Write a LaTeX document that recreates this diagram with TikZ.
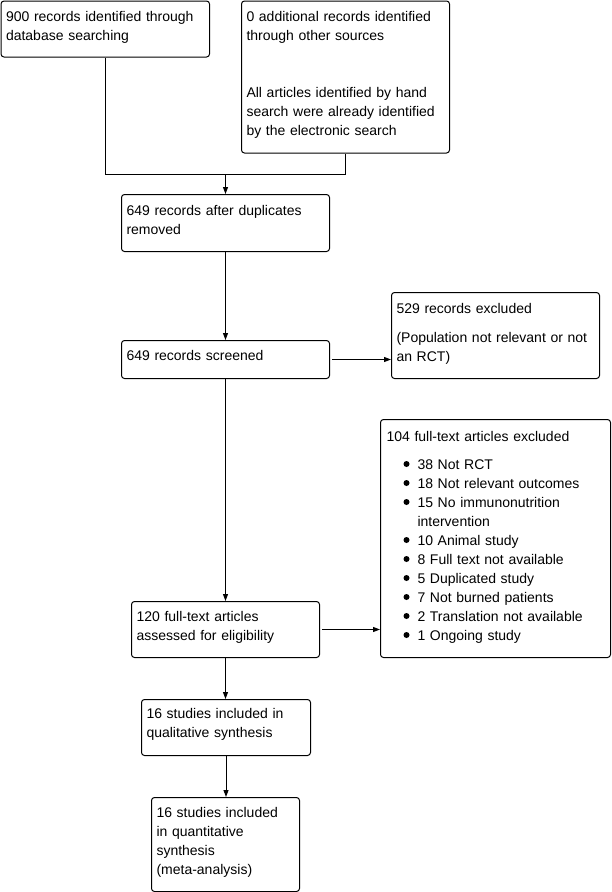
\documentclass[tikz,border=0pt]{standalone}
\usepackage{fontspec}
\setmainfont{Liberation Sans}
\usetikzlibrary{arrows.meta}
\newcommand\bitem{\hspace*{17pt}\tikz[baseline=-5.5pt]\fill (0,0) circle (3pt);\hspace{8pt}}
\tikzset{
  box/.style={draw, line width=1pt, rounded corners=3pt, anchor=north west,
    inner xsep=5pt, inner ysep=0pt, align=left,
    font=\fontsize{14}{19}\selectfont},
  link/.style={line width=1pt},
  arr/.style={line width=1pt, -{Triangle[length=7pt,width=5pt]}}
}
\begin{document}
\begin{tikzpicture}[x=1pt,y=-1pt]
\useasboundingbox (0,0) rectangle (611,892);
\node[box, text width=198.5pt, text height=20pt, text depth=36pt] (A) at (0.5,0.5)
  {900 records identified through\\database searching};
\node[box, text width=198pt, text height=20pt, text depth=132pt] (B) at (241,0.5)
  {0 additional records identified\\through other sources\\[38pt]All articles identified by hand\\search were already identified\\by the electronic search};
\node[box, text width=198pt, text height=20.5pt, text depth=36.5pt] (C) at (121,194)
  {649 records after duplicates\\removed};
\node[box, text width=198pt, text height=20pt, text depth=18pt] (D) at (121,340)
  {649 records screened};
\node[box, text width=198pt, text height=21pt, text depth=65pt] (E) at (391,292)
  {529 records excluded\\[10pt](Population not relevant or not\\an RCT)};
\node[box, inner xsep=6pt, text width=218pt, text height=21.5pt, text depth=216.5pt] (F) at (380,419)
  {104 full-text articles excluded\\[9.5pt]
   \bitem 38 Not RCT\\
   \bitem 18 Not relevant outcomes\\
   \bitem 15 No immunonutrition\\
   \hspace*{31pt}intervention\\
   \bitem 10 Animal study\\
   \bitem 8 Full text not available\\
   \bitem 5 Duplicated study\\
   \bitem 7 Not burned patients\\
   \bitem 2 Translation not available\\
   \bitem 1 Ongoing study};
\node[box, text width=178pt, text height=20pt, text depth=36pt] (G) at (131,601)
  {120 full-text articles\\assessed for eligibility};
\node[box, text width=159pt, text height=19pt, text depth=37pt] (H) at (141,699)
  {16 studies included in\\qualitative synthesis};
\node[box, text width=138pt, text height=19.5pt, text depth=74.5pt] (I) at (151,797)
  {16 studies included\\in quantitative\\synthesis\\(meta-analysis)};
\coordinate (j) at (225.5,174);
\draw[link] (A.south) -- (A.south |- j) -- (B.south |- j) -- (B.south);
\draw[arr] (j) -- (C.north -| j);
\draw[arr] (C.south) -- (D.north);
\draw[arr] (D.south) -- (D.south |- G.north);
\draw[arr] (G.south) -- (G.south |- H.north);
\draw[arr] (H.south) -- (H.south |- I.north);
\draw[arr, shorten <=2pt] (D.east) -- (D.east -| E.west);
\draw[arr, shorten <=2pt] (G.east) -- (G.east -| F.west);
\end{tikzpicture}
\end{document}
